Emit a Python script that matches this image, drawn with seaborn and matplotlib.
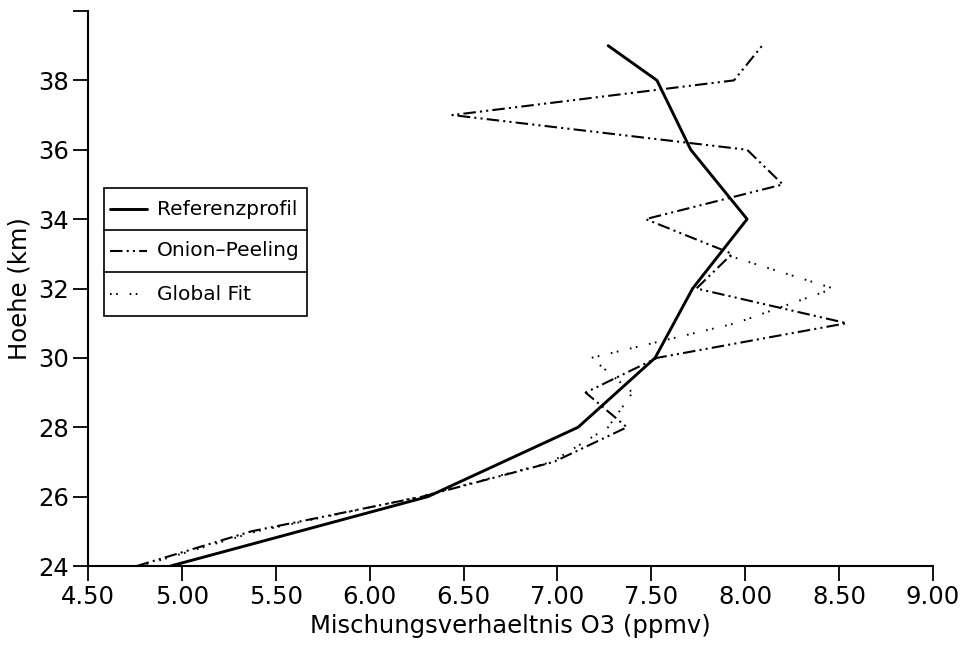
import matplotlib
matplotlib.use("Agg")
import numpy as np
import pandas as pd
import matplotlib.pyplot as plt
import seaborn as sns
from matplotlib.patches import Rectangle

# ---- data ----
ref_h = [24, 26, 28, 30, 32, 34, 36, 38, 39]
ref_v = [4.94, 6.31, 7.11, 7.52, 7.72, 8.01, 7.71, 7.53, 7.27]

onion_h = [24, 25, 26, 27, 28, 29, 30, 31, 32, 33, 34, 35, 36, 37, 38, 39]
onion_v = [4.76, 5.37, 6.28, 6.98, 7.37, 7.15, 7.53, 8.54, 7.74, 7.93,
           7.47, 8.20, 8.01, 6.44, 7.94, 8.09]

fit_h = [24, 25, 26, 27, 28, 29, 30, 31, 32, 33]
fit_v = [4.78, 5.40, 6.27, 6.97, 7.27, 7.40, 7.18, 7.95, 8.47, 7.88]

x_ticks = [4.5, 5.0, 5.5, 6.0, 6.5, 7.0, 7.5, 8.0, 8.5, 9.0]
y_ticks = [24, 26, 28, 30, 32, 34, 36, 38, 40]
y_ticklabels = ["24", "26", "28", "30", "32", "34", "36", "38", ""]

df_ref = pd.DataFrame({"v": ref_v, "h": ref_h})
df_onion = pd.DataFrame({"v": onion_v, "h": onion_h})
df_fit = pd.DataFrame({"v": fit_v, "h": fit_h})

sns.set_style("ticks", {"text.color": "black", "axes.labelcolor": "black",
                        "xtick.color": "black", "ytick.color": "black",
                        "axes.edgecolor": "black"})
plt.rcParams["font.family"] = ["DejaVu Sans"]
plt.rcParams["lines.scale_dashes"] = False

ls_ref = "-"
ls_onion = (0, (9, 3, 1.5, 3, 1.5, 3))
ls_fit = (0, (1.2, 3.2, 1.2, 8.5))

fig = plt.figure(figsize=(9.63, 6.45), dpi=100)
ax = fig.add_axes([88 / 963, 79 / 645, 845 / 963, 555 / 645])

sns.lineplot(data=df_ref, x="v", y="h", sort=False, estimator=None, color="black",
             linewidth=2.1, linestyle=ls_ref, legend=False, ax=ax)
sns.lineplot(data=df_onion, x="v", y="h", sort=False, estimator=None, color="black",
             linewidth=1.5, linestyle=ls_onion, legend=False, ax=ax)
sns.lineplot(data=df_fit, x="v", y="h", sort=False, estimator=None, color="black",
             linewidth=1.4, linestyle=ls_fit, legend=False, ax=ax)

ax.set_xlim(4.5, 9.0)
ax.set_ylim(24, 40)
ax.set_xticks(x_ticks)
ax.set_xticklabels([f"{t:.2f}" for t in x_ticks])
ax.set_yticks(y_ticks)
ax.set_yticklabels(y_ticklabels)

ax.spines["top"].set_visible(False)
ax.spines["right"].set_visible(False)
for s in ("left", "bottom"):
    ax.spines[s].set_linewidth(1.5)
ax.tick_params(axis="both", direction="out", length=10.5, width=1.3,
               labelsize=17.5, pad=3, colors="black")

ax.set_xlabel("Mischungsverhaeltnis O3 (ppmv)", fontsize=17.5, labelpad=4)
ax.set_ylabel("Hoehe (km)", fontsize=17.5, labelpad=5)

# ---- boxed legend with row separators ----
bx0, bx1 = 0.019, 0.259
by0, by1 = 0.450, 0.681
ax.add_patch(Rectangle((bx0, by0), bx1 - bx0, by1 - by0, transform=ax.transAxes,
                       fill=False, ec="black", lw=1.2, clip_on=False, zorder=5))
for yy in (0.605, 0.530):
    ax.plot([bx0, bx1], [yy, yy], transform=ax.transAxes, color="black",
            lw=1.2, clip_on=False, zorder=5)

rows = [(0.643, ls_ref, 2.1, "Referenzprofil"),
        (0.568, ls_onion, 1.5, "Onion–Peeling"),
        (0.490, ls_fit, 1.4, "Global Fit")]
for yy, ls, lw, txt in rows:
    ax.plot([0.026, 0.070], [yy, yy], transform=ax.transAxes, color="black",
            lw=lw, linestyle=ls, clip_on=False, zorder=5)
    ax.text(0.082, yy, txt, transform=ax.transAxes, fontsize=14.5,
            va="center", ha="left", color="black", zorder=5)

fig.savefig("out.png", dpi=100)
